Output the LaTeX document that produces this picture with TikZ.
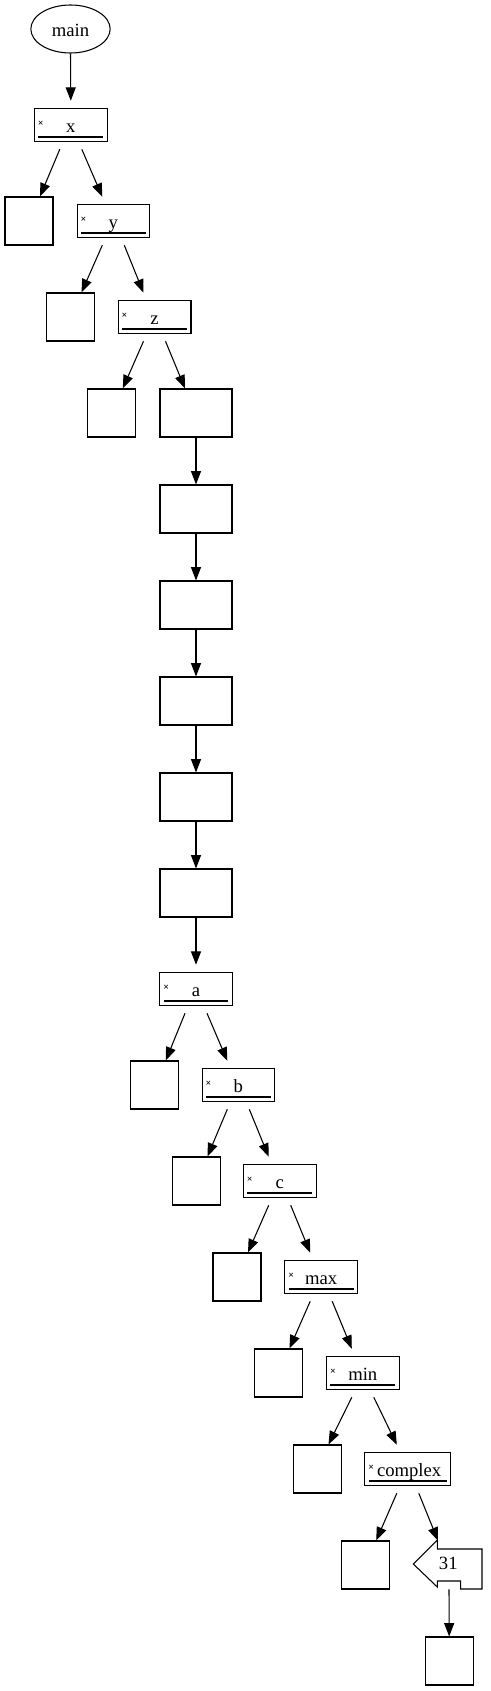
\documentclass[tikz,border=0pt]{standalone}
\usepackage{fontspec}
\setmainfont{Liberation Serif}
\usetikzlibrary{arrows.meta,shapes.geometric}
\tikzset{
  ln/.style={line width=0.8pt, draw=black},
  arr/.style={ln, -{Triangle[length=10pt,width=7.5pt]}},
  sq/.style={ln, rectangle, inner sep=0pt, minimum width=36pt, minimum height=36pt},
  bigbox/.style={ln, rectangle, inner sep=0pt, minimum width=54pt, minimum height=36pt},
  recnode/.style={rectangle, inner sep=0pt, minimum height=36pt, font=\fontsize{14pt}{16pt}\selectfont, text height=11pt, text depth=0pt},
  xmark/.style={inner sep=0pt, font=\fontsize{7.5pt}{8pt}\selectfont\bfseries},
  lbl/.style={inner sep=0pt, font=\fontsize{14pt}{16pt}\selectfont},
}
\begin{document}
\begin{tikzpicture}[x=0.75pt,y=-0.75pt]
\useasboundingbox (0,0) rectangle (491,1691);
% root
\node[ln, ellipse, inner sep=0pt, minimum width=59.5pt, minimum height=36pt, font=\fontsize{14pt}{16pt}\selectfont, text height=11.5pt, text depth=0pt] (main) at (70.5,29) {main};
% record-like nodes
\foreach \n/\cx/\cy/\w/\t in {X/70.8/125/54.5/x, Y/113.3/221/54/y, Z/154.5/317/54.3/z, A/196/989/54/a, Bb/238.3/1085/54/b, C/279.7/1181/54.5/c, MAX/321.2/1277/54.3/max, MIN/362.8/1373/54.3/min, CPX/407.8/1469/64.3/{\hspace*{2pt}complex}} {
  \node[recnode, minimum width=\w pt] (\n) at (\cx,\cy) {\t};
  \draw[ln] ([yshift=-5.8pt]\n.north west) rectangle ([yshift=5.8pt]\n.south east);
  \draw[line width=0.6pt] ([xshift=3pt,yshift=-8.2pt]\n.west) -- ([xshift=-3pt,yshift=-8.2pt]\n.east);
  \draw[line width=0.6pt] ([xshift=3pt,yshift=-9.5pt]\n.west) -- ([xshift=-3pt,yshift=-9.5pt]\n.east);
  \node[xmark] at ([xshift=4.9pt,yshift=0.9pt]\n.west) {×};
}
% small boxes
\node[sq] (L2) at (29,221) {};
\node[sq] (L3) at (70.5,317) {};
\node[sq] (L4) at (111.8,413) {};
\node[sq] (L11) at (154.8,1085) {};
\node[sq] (L12) at (196.5,1181) {};
\node[sq] (L13) at (237,1277) {};
\node[sq] (L14) at (278.5,1373) {};
\node[sq] (L15) at (317.5,1469) {};
\node[sq] (L16) at (365.2,1565) {};
\node[sq] (L17) at (449.2,1661) {};
% chain of big boxes
\node[bigbox] (B4) at (196,413) {};
\node[bigbox] (B5) at (196,509) {};
\node[bigbox] (B6) at (196,605) {};
\node[bigbox] (B7) at (196,701) {};
\node[bigbox] (B8) at (196,797) {};
\node[bigbox] (B9) at (196,893) {};
% promoter-like node "31"
\node[inner sep=0pt, minimum width=52.5pt, minimum height=36pt] (T31) at (449,1565) {};
\draw[ln, shift={(T31.center)}] (-35.7,-1) -- (-11.7,-25) -- (-11.7,-16) -- (33,-16) -- (33,24) -- (11.7,24) -- (11.7,16) -- (-11.7,16) -- (-11.7,22) -- cycle;
\node[lbl, anchor=base] (T31lbl) at (448.3,1569.5) {31};
% edges
\draw[arr] (main.south) -- (X.north);
\foreach \p/\l/\r in {X/L2/Y, Y/L3/Z, Z/L4/B4, A/L11/Bb, Bb/L12/C, C/L13/MAX, MAX/L14/MIN, MIN/L15/CPX, CPX/L16/T31} {
  \draw[arr] ([xshift=-8.25pt]\p.south) -- ([xshift=8.25pt]\l.north);
  \draw[arr] ([xshift=8.25pt]\p.south) -- ([xshift=-8.25pt]\r.north);
}
\draw[arr] (B4) -- (B5);
\draw[arr] (B5) -- (B6);
\draw[arr] (B6) -- (B7);
\draw[arr] (B7) -- (B8);
\draw[arr] (B8) -- (B9);
\draw[arr] (B9) -- (A);
\draw[arr] (T31.south) -- (L17.north);
\end{tikzpicture}
\end{document}
